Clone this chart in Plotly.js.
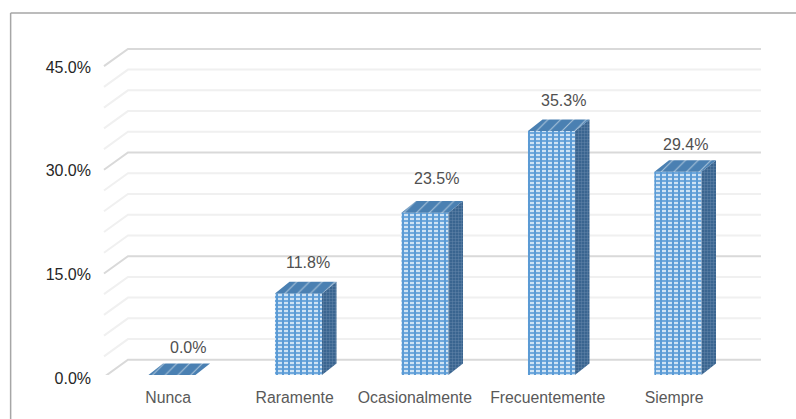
<!DOCTYPE html>
<html>
<head>
<meta charset="utf-8">
<script src="https://cdn.plot.ly/plotly-3.0.1.min.js"></script>
<style>html,body{margin:0;padding:0;background:#fff}</style>
</head>
<body>
<div id="chart" style="width:796px;height:419px"></div>
<script>
// Frecuencia de respuestas por categoría
const categories = ["Nunca", "Raramente", "Ocasionalmente", "Frecuentemente", "Siempre"];
const percentages = [0.0, 11.8, 23.5, 35.3, 29.4];
const yTicks = [0, 15, 30, 45];
const yTickLabels = ["0.0%", "15.0%", "30.0%", "45.0%"];
const xTickPositions = [-0.03, 0.97, 1.92, 2.97, 3.97];
const labelLift = [16, 19, 23, 19, 16];
const labelNudge = [5, -2, 0, 1, -4];

// Pseudo-3D geometry, in axis units
const barWidth = 0.3715, barDepthX = 0.115, barDepthY = 1.68;
const wallFrontX = -0.5375, wallBackX = -0.348, wallEndX = 4.656;
const wallFrontOffset = -0.3, wallBackOffset = 2.2;

// Gridlines on the back and side walls, behind the bars
const gridLevels = [];
for (let v = 0; v <= 45; v += 3) gridLevels.push(v);
const shapes = gridLevels.map(v => {
  const major = v % 15 === 0;
  const yBack = v + wallBackOffset;
  return {
    type: "path", layer: "below", xref: "x", yref: "y",
    path: `M${wallFrontX},${v + wallFrontOffset} L${wallBackX},${yBack} L${wallEndX},${yBack}`,
    line: {color: major ? "#d9d9d9" : "#f0f0f0", width: 2}
  };
});
// Chart frame: top and left edges only
shapes.push({type: "line", xref: "paper", yref: "paper", x0: -0.1322, x1: 1.03, y0: 1.0585, y1: 1.0585, line: {color: "#a6a6a6", width: 1.5}});
shapes.push({type: "line", xref: "paper", yref: "paper", x0: -0.1322, x1: -0.1322, y0: -0.13, y1: 1.0585, line: {color: "#a6a6a6", width: 1.5}});

// Side and top faces of each bar
const sideX = [], sideY = [], topX = [], topY = [];
percentages.forEach((v, i) => {
  const l = i - barWidth / 2, r = i + barWidth / 2;
  sideX.push(r, r + barDepthX, r + barDepthX, r, r, null);
  sideY.push(0, barDepthY, v + barDepthY, v, 0, null);
  topX.push(l, r, r + barDepthX, l + barDepthX, l, null);
  topY.push(v, v, v + barDepthY, v + barDepthY, v, null);
});
const indices = categories.map((_, i) => i);

const traces = [
  {type: "bar", x: indices, y: percentages, width: barWidth, hoverinfo: "skip",
   marker: {color: "#8fbde6", line: {width: 0},
            pattern: {shape: "-", size: 4, solidity: 0.4, fgcolor: "#e8f2fb", bgcolor: "#6fa8dc"}}},
  {type: "bar", x: indices, y: percentages, width: barWidth, hoverinfo: "skip",
   marker: {color: "rgba(0,0,0,0)", line: {width: 0},
            pattern: {shape: "|", size: 6, solidity: 0.34, fgcolor: "#5b9bd5", bgcolor: "rgba(0,0,0,0)"}}},
  {type: "scatter", mode: "none", x: sideX, y: sideY, fill: "toself", hoverinfo: "skip",
   fillcolor: "#3f6b96",
   fillpattern: {shape: "+", size: 3, solidity: 0.25, fgcolor: "#6a8cae", bgcolor: "#3a6590"}},
  {type: "scatter", mode: "none", x: topX, y: topY, fill: "toself", hoverinfo: "skip",
   fillcolor: "#4a80b2",
   fillpattern: {shape: "/", size: 9, solidity: 0.12, fgcolor: "#a9c3da", bgcolor: "#4a80b2"}}
];

const annotations = percentages.map((v, i) => ({
  x: i + barDepthX - 0.025, y: v + barDepthY, xref: "x", yref: "y",
  text: v.toFixed(1) + "%", showarrow: false, yanchor: "middle",
  yshift: labelLift[i], xshift: labelNudge[i],
  font: {family: "Liberation Sans, Arial, sans-serif", size: 16, color: "#505050"}
}));

const layout = {
  width: 796, height: 419,
  margin: {l: 100, r: 20, t: 33, b: 44},
  paper_bgcolor: "#ffffff", plot_bgcolor: "rgba(0,0,0,0)",
  barmode: "overlay", showlegend: false,
  xaxis: {
    range: [-0.569, 4.775], tickmode: "array", tickvals: xTickPositions, ticktext: categories,
    tickangle: 0, showgrid: false, zeroline: false, showline: false, ticks: "", ticklabelstandoff: 11,
    tickfont: {family: "Liberation Sans, Arial, sans-serif", size: 15.8, color: "#595959"}
  },
  yaxis: {
    range: [0, 49.5], tickmode: "array", tickvals: yTicks, ticktext: yTickLabels,
    showgrid: false, zeroline: false, showline: false, ticks: "", ticklabelstandoff: 8, ticklabelshift: 3,
    tickfont: {family: "Liberation Sans, Arial, sans-serif", size: 16, color: "#262626"}
  },
  shapes, annotations
};

Plotly.newPlot("chart", traces, layout, {displayModeBar: false, staticPlot: true});
</script>
</body>
</html>
